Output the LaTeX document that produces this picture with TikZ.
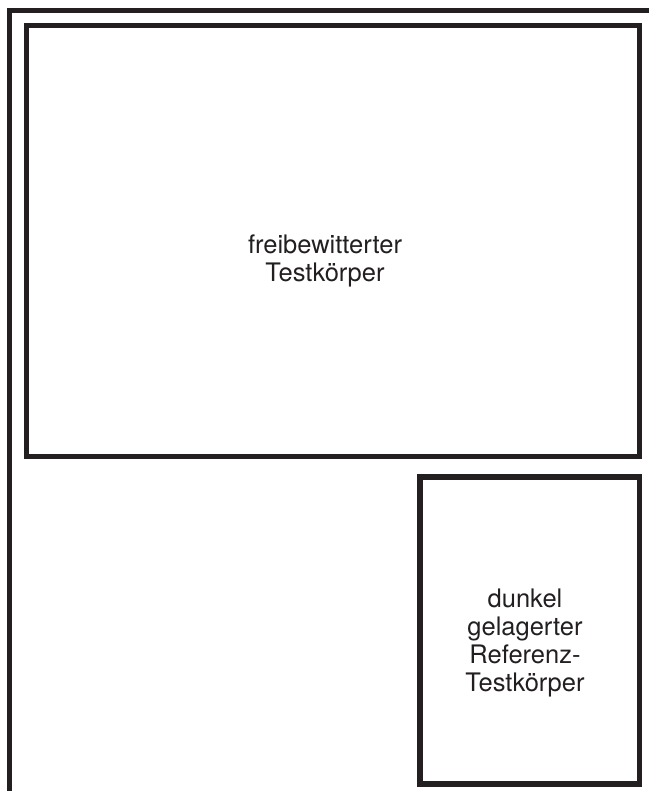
\documentclass[tikz,border=0pt]{standalone}
\usepackage{fontspec}
\setmainfont{TeX Gyre Heros}
\usepackage{xcolor}
\definecolor{cLine}{HTML}{231F20}
\usepackage{tikz}
\usetikzlibrary{positioning}
\tikzset{
  frame-line/.style={draw=cLine,line width=5.5pt},
  node-label/.style={align=center,inner sep=0pt,text=cLine,
    font=\fontsize{25.5}{28}\selectfont},
}

\begin{document}
\begin{tikzpicture}[x=1pt,y=-1pt]
  \useasboundingbox (0,0) rectangle (648,791);
  % Rahmen und Testkörper
  \draw[frame-line] (9.5,800) -- (9.5,10.5) -- (660,10.5);
  \draw[frame-line] (26.5,25.5) rectangle (639.5,456.5);
  \draw[frame-line] (420,477) rectangle (639.5,784);
  \node[node-label] (frei) at (325,260.5) {freibewitterter\\Testkörper};
  \node[node-label] (ref)  at (525,643)   {dunkel\\gelagerter\\Referenz-\\Testkörper};
\end{tikzpicture}
\end{document}
